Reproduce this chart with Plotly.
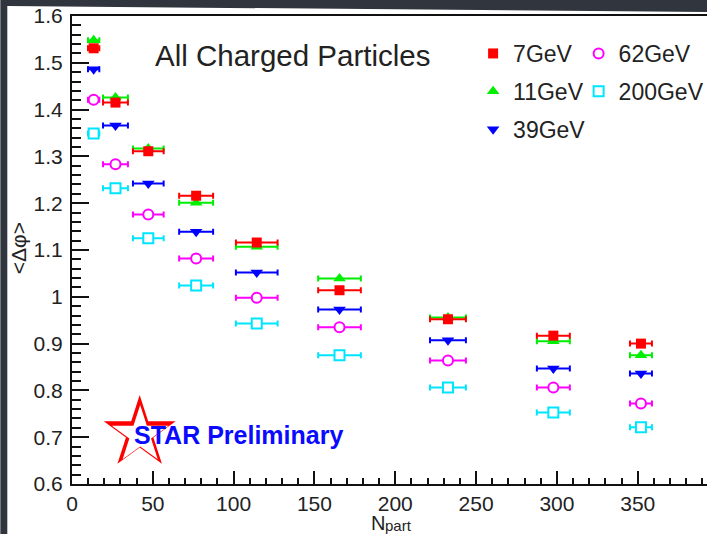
import math
import plotly.graph_objects as go

# ---- data: <delta phi> vs N_part for each beam energy ----
npart = [13.4, 26.9, 47.2, 76.8, 114.3, 165.5, 232.6, 297.8, 352.0]
npart_err = [3.5, 7.7, 9.5, 10.5, 12.9, 13.2, 11.1, 10.2, 6.8]

dphi_7 = [1.531, 1.415, 1.311, 1.216, 1.116, 1.014, 0.952, 0.917, 0.900]
dphi_11 = [1.548, 1.426, 1.317, 1.201, 1.107, 1.039, 0.956, 0.905, 0.875]
dphi_39 = [1.486, 1.366, 1.242, 1.139, 1.052, 0.973, 0.907, 0.847, 0.836]
dphi_62 = [1.421, 1.283, 1.176, 1.082, 0.998, 0.935, 0.864, 0.806, 0.772]
dphi_200 = [1.349, 1.232, 1.125, 1.024, 0.943, 0.875, 0.806, 0.753, 0.721]

# ---- page geometry ----
W, H = 710, 534
ML, MR, MT, MB = 72, 0, 16, 50
PW, PH = W - ML - MR, H - MT - MB
PX_PER_UNIT = 1.624


def px2x(px):
    return (px - ML) / PW


def py2y(py):
    return (H - MB - py) / PH


FONT = "Liberation Sans, Arial, Helvetica, sans-serif"
TXT = "#222222"
SLIDE = "#30353e"

fig = go.Figure()

series = [
    ("7GeV", dphi_7, "square", "#ff0000", "#ff0000", 10, 0, "legend"),
    ("11GeV", dphi_11, "triangle-up", "#00ee00", "#00ee00", 11, 0, "legend"),
    ("39GeV", dphi_39, "triangle-down", "#0000ff", "#0000ff", 11, 0, "legend"),
    ("62GeV", dphi_62, "circle", "#ffffff", "#ff00ff", 10, 2, "legend2"),
    ("200GeV", dphi_200, "square", "#ffffff", "#00e5ff", 10, 2, "legend2"),
]
draw_order = [4, 3, 2, 1, 0]
for i in draw_order:
    name, vals, sym, fill, edge, size, lw, leg = series[i]
    fig.add_trace(go.Scatter(
        x=npart, y=vals, name=name, mode="markers",
        legend=leg, legendgroup=name, legendrank=i,
        marker=dict(symbol=sym, size=size, color=fill,
                    line=dict(color=edge, width=lw)),
        error_x=dict(type="data", array=npart_err, color=edge,
                     thickness=2, width=3),
    ))

# ---- dark slide edges around the white page ----
shapes = [
    dict(type="path", xref="paper", yref="paper",
         path=f"M {px2x(0)},{py2y(0)} L {px2x(710)},{py2y(0)} "
              f"L {px2x(710)},{py2y(12)} L {px2x(7)},{py2y(6)} "
              f"L {px2x(7)},{py2y(534)} L {px2x(0)},{py2y(534)} Z",
         fillcolor=SLIDE, line=dict(width=0)),
]


def star_path(cx, cy, R, ratio=0.382):
    pts = []
    for k in range(10):
        rad = R if k % 2 == 0 else R * ratio
        a = math.radians(-90 + 36 * k)
        pts.append((px2x(cx + rad * math.cos(a)), py2y(cy + rad * math.sin(a))))
    return "M " + " L ".join(f"{x},{y}" for x, y in pts) + " Z"


# STAR logo: red star with a white inner star
shapes.append(dict(type="path", xref="paper", yref="paper",
                   path=star_path(140, 433, 38), fillcolor="#ff0000",
                   line=dict(width=0)))
shapes.append(dict(type="path", xref="paper", yref="paper",
                   path=star_path(140.5, 435, 30), fillcolor="#ffffff",
                   line=dict(width=0)))

annotations = [
    dict(text="All Charged Particles", x=px2x(153), y=py2y(55),
         xref="paper", yref="paper", xanchor="left", yanchor="middle",
         showarrow=False, font=dict(family=FONT, size=29.5, color=TXT)),
    dict(text="<b>STAR Preliminary</b>", x=px2x(132), y=py2y(435),
         xref="paper", yref="paper", xanchor="left", yanchor="middle",
         showarrow=False, font=dict(family=FONT, size=25, color="#0a0aff")),
    dict(text="<\u0394\u03c6>", x=px2x(18), y=py2y(248),
         xref="paper", yref="paper", xanchor="center", yanchor="middle",
         textangle=-90, showarrow=False,
         font=dict(family=FONT, size=21, color=TXT)),
    # x-axis title: N with subscript "part"
    dict(text="N", x=px2x(387), y=py2y(535),
         xref="paper", yref="paper", xanchor="right", yanchor="bottom",
         borderpad=0, showarrow=False,
         font=dict(family=FONT, size=20, color=TXT)),
    dict(text="part", x=px2x(385), y=py2y(535),
         xref="paper", yref="paper", xanchor="left", yanchor="bottom",
         borderpad=0, showarrow=False,
         font=dict(family=FONT, size=15, color=TXT)),
]

legend_style = dict(
    bgcolor="rgba(0,0,0,0)", borderwidth=0,
    font=dict(family=FONT, size=23, color=TXT),
    xref="paper", yref="paper", xanchor="left", yanchor="top",
    tracegroupgap=5, orientation="v", itemsizing="trace",
)

fig.update_layout(
    width=W, height=H,
    margin=dict(l=ML, r=MR, t=MT, b=MB, pad=0),
    paper_bgcolor="#ffffff",
    plot_bgcolor="#ffffff",
    font=dict(family=FONT, size=21, color=TXT),
    showlegend=True,
    legend=dict(x=px2x(475), y=py2y(32), **legend_style),
    legend2=dict(x=px2x(581), y=py2y(32), **legend_style),
    shapes=shapes,
    annotations=annotations,
    xaxis=dict(
        range=[0, PW / PX_PER_UNIT],
        tickmode="array", tickvals=[0, 50, 100, 150, 200, 250, 300, 350],
        ticks="inside", ticklen=13, tickwidth=2, tickcolor="#111",
        minor=dict(dtick=10, ticks="inside", ticklen=6, tickwidth=2,
                   tickcolor="#111"),
        showline=True, linecolor="#111", linewidth=2, mirror=True,
        showgrid=False, zeroline=False,
        tickfont=dict(family=FONT, size=21, color=TXT),
        ticklabelstandoff=0,
    ),
    yaxis=dict(
        range=[0.6, 1.6],
        tickmode="array",
        tickvals=[0.6, 0.7, 0.8, 0.9, 1.0, 1.1, 1.2, 1.3, 1.4, 1.5, 1.6],
        ticktext=["0.6", "0.7", "0.8", "0.9", "1", "1.1", "1.2", "1.3",
                  "1.4", "1.5", "1.6"],
        ticks="inside", ticklen=17, tickwidth=2, tickcolor="#111",
        minor=dict(dtick=0.02, ticks="inside", ticklen=9, tickwidth=2,
                   tickcolor="#111"),
        showline=True, linecolor="#111", linewidth=2, mirror=False,
        showgrid=False, zeroline=False,
        tickfont=dict(family=FONT, size=21, color=TXT),
        ticklabelstandoff=3,
    ),
)

fig.write_html("out.html")
